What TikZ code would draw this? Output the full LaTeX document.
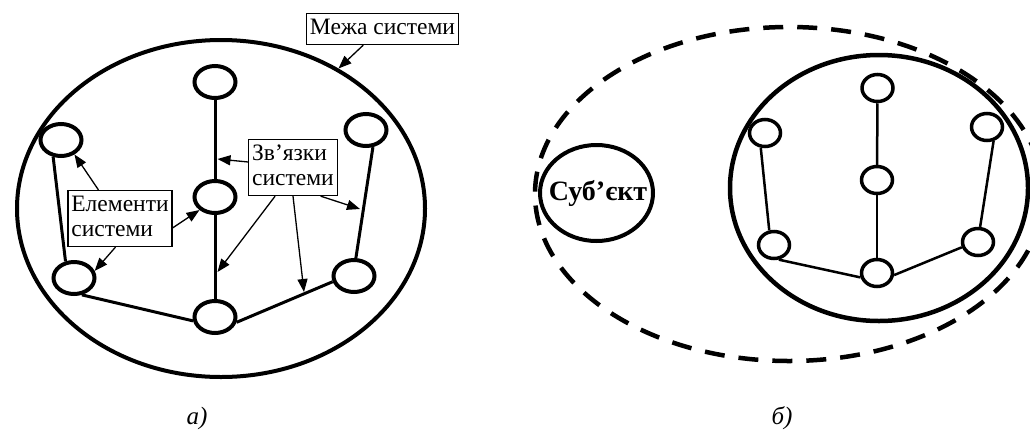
\documentclass[tikz,border=0pt]{standalone}
\usepackage{fontspec}
\setmainfont{Liberation Serif}
\usetikzlibrary{shapes.geometric,arrows.meta}

\begin{document}
\begin{tikzpicture}[x=1pt,y=-1pt,
  elem/.style={ellipse,draw,line width=4pt,minimum width=41pt,minimum height=32pt,inner sep=0pt},
  elemsm/.style={ellipse,draw,line width=3.5pt,minimum width=31pt,minimum height=27pt,inner sep=0pt},
  link/.style={line width=3pt},
  linksm/.style={line width=2.5pt},
  callout/.style={draw,line width=1.3pt,inner xsep=3.5pt,inner ysep=3pt,align=left,fill=white,
    font=\fontsize{23.5}{25}\selectfont},
  pointer/.style={line width=1.3pt,-{Triangle[length=13pt,width=10pt]}},
  caption/.style={font=\fontsize{25}{28}\selectfont\itshape},
  boundary/.style={ellipse,draw,line width=4pt,inner sep=0pt},
]
\useasboundingbox (0,0) rectangle (1030,429);
\clip (0,0) rectangle (1030,429);

% ---------- a) system with its elements and links ----------
\node[boundary,minimum width=408pt,minimum height=337pt] (big) at (221,208.5) {};

\node[elem] (t)  at (215,82)  {};
\node[elem] (lt) at (61,140)  {};
\node[elem] (m)  at (215,197) {};
\node[elem] (rt) at (366,130) {};
\node[elem] (lb) at (74,278)  {};
\node[elem] (bc) at (215,317) {};
\node[elem] (rb) at (354,276) {};

\draw[link] (t) -- (m);
\draw[link] (m) -- (bc);
\draw[link] (lt.245) -- (lb.117);
\draw[link] (lb.295) -- (bc.190);
\draw[link] (bc.346) -- (rb.195);
\draw[link] (rb.84) -- (rt.292);

\node[callout] (mz) at (382.5,29) {\strut Межа системи};
\node[callout] (el) at (120,218.5) {\strut Елементи\\\strut системи};
\node[callout] (zv) at (293,167.5) {\strut Зв’язки\\\strut системи};

\coordinate (a1) at (217.5,159);
\coordinate (a2) at (217.5,272);
\coordinate (a3) at (304,292);
\coordinate (a4) at (360,209);

\draw[pointer] (mz.220) -- (big.50);
\draw[pointer] (el.127) -- (lt.-47);
\draw[pointer] (el.-10) -- (m.220);
\draw[pointer] (el.261) -- (lb.19);
\draw[pointer] (zv.173) -- (a1);
\draw[pointer] (zv.238) -- (a2);
\draw[pointer] (zv.south) -- (a3);
\draw[pointer] (zv.-46) -- (a4);

\node[caption] (capa) at (197,418) {а)};

% ---------- b) subject and the system it observes ----------
\node[ellipse,draw,line width=4.5pt,dash pattern=on 20pt off 14pt,inner sep=0pt,
  minimum width=508pt,minimum height=334pt] (env) at (789,194) {};
\node[boundary,minimum width=113pt,minimum height=96pt] (subj) at (596.5,193) {};
\node[font=\fontsize{28}{30}\selectfont\bfseries,inner sep=0pt] (subjtxt) at (598,193) {Суб’єкт};
\node[boundary,line width=4.5pt,minimum width=298pt,minimum height=266pt] (sys) at (879,188) {};

\node[elemsm] (st)  at (877.5,88) {};
\node[elemsm] (slt) at (765,133)  {};
\node[elemsm] (sm)  at (877,180)  {};
\node[elemsm] (srt) at (987,127)  {};
\node[elemsm] (slb) at (774,245)  {};
\node[elemsm] (sb)  at (877,273)  {};
\node[elemsm] (srb) at (978,242)  {};

\draw[linksm] (st) -- (sm);
\draw[linksm] (sm) -- (sb);
\draw[linksm] (slt.254) -- (slb.108);
\draw[linksm] (slb.288) -- (sb.195);
\draw[linksm] (sb.353) -- (srb.198);
\draw[linksm] (srb.82) -- (srt.295);

\node[caption] (capb) at (782,418) {б)};
\end{tikzpicture}
\end{document}
